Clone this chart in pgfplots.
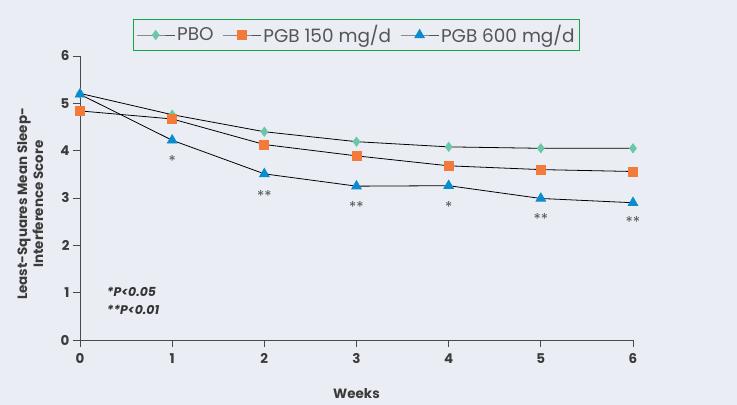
\documentclass[border=0pt]{standalone}
\usepackage{pgfplots}
\pgfplotsset{compat=1.18}
\usepackage{fontspec}
\setmainfont{Poppins}
\definecolor{bg}{HTML}{EAEDF4}
\definecolor{axisgray}{HTML}{4A4A4A}
\definecolor{pbo}{HTML}{6CC7A8}
\definecolor{pgbmid}{HTML}{F47A3A}
\definecolor{pgbhigh}{HTML}{0A8CCF}
\definecolor{legbox}{HTML}{12A64C}
\definecolor{startxt}{HTML}{555555}

\begin{document}
\begin{tikzpicture}
\path[use as bounding box, fill=bg] (-80bp,-65bp) rectangle (657bp,340bp);
\begin{axis}[
  at={(0,0)}, anchor=south west,
  scale only axis, width=553bp, height=284bp,
  xmin=0, xmax=6, ymin=0, ymax=6,
  clip=false,
  axis x line=bottom, axis y line=left,
  axis line style={-, draw=axisgray, line width=0.9pt},
  xtick={0,...,6}, ytick={0,...,6},
  tick align=outside, major tick length=7bp,
  tick style={draw=axisgray, line width=0.9pt},
  /pgf/number format/assume math mode=true,
  ticklabel style={font=\fontsize{13.5}{15}\selectfont\bfseries, text=axisgray!80!black},
  xticklabel style={yshift=-3bp},
  xlabel={Weeks},
  xlabel style={at={(axis description cs:0.5,0)}, anchor=center, yshift=-54bp,
    font=\fontsize{13.5}{15}\selectfont\bfseries, text=axisgray!80!black},
  ylabel={Least-Squares Mean Sleep-\\Interference Score},
  ylabel style={at={(axis description cs:-0.09,0.479)}, anchor=center,
    align=center, font=\fontsize{13.5}{16}\selectfont\bfseries, text=axisgray!80!black},
  legend columns=3,
  legend style={at={(axis description cs:0.5,1)}, anchor=center, yshift=21bp,
    draw=legbox, line width=1.5pt, fill=bg,
    font=\fontsize{18.5}{20}\selectfont, text=startxt,
    /tikz/every even column/.append style={column sep=7bp},
    inner xsep=3bp, inner ysep=4bp},
  legend image code/.code={%
    \draw[line width=0.8pt, draw=startxt, mark repeat=2, mark phase=2]
      plot coordinates {(0bp,0bp) (19bp,0bp) (38bp,0bp)};},
]
\addplot[black, line width=0.8pt, mark=diamond*, mark size=4.5bp,
  mark options={fill=pbo, draw=pbo}]
  coordinates {(0,5.21) (1,4.76) (2,4.40) (3,4.19) (4,4.08) (5,4.05) (6,4.05)};
\addlegendentry{PBO}
\addplot[black, line width=0.8pt, mark=square*, mark size=4.5bp,
  mark options={fill=pgbmid, draw=pgbmid}]
  coordinates {(0,4.84) (1,4.67) (2,4.13) (3,3.89) (4,3.68) (5,3.60) (6,3.56)};
\addlegendentry{PGB 150 mg/d}
\addplot[black, line width=0.8pt, mark=triangle*, mark size=5.5bp,
  mark options={fill=pgbhigh, draw=pgbhigh}]
  coordinates {(0,5.19) (1,4.22) (2,3.51) (3,3.25) (4,3.26) (5,2.99) (6,2.90)};
\addlegendentry{PGB 600 mg/d}

\begin{scope}[every node/.style={font=\fontsize{15}{17}\selectfont, text=startxt, inner sep=0pt}]
\node at (axis cs:1,3.78) {*};
\node at (axis cs:2,3.05) {**};
\node at (axis cs:3,2.81) {**};
\node at (axis cs:4,2.81) {*};
\node at (axis cs:5,2.55) {**};
\node at (axis cs:6,2.49) {**};
\end{scope}
\node[anchor=west, font=\fontsize{12.5}{14}\selectfont\bfseries\itshape, text=axisgray!70!black, inner sep=0pt]
  at (axis cs:0.29,1.01) {*P<0.05};
\node[anchor=west, font=\fontsize{12.5}{14}\selectfont\bfseries\itshape, text=axisgray!70!black, inner sep=0pt]
  at (axis cs:0.29,0.63) {**P<0.01};
\end{axis}
\end{tikzpicture}
\end{document}
